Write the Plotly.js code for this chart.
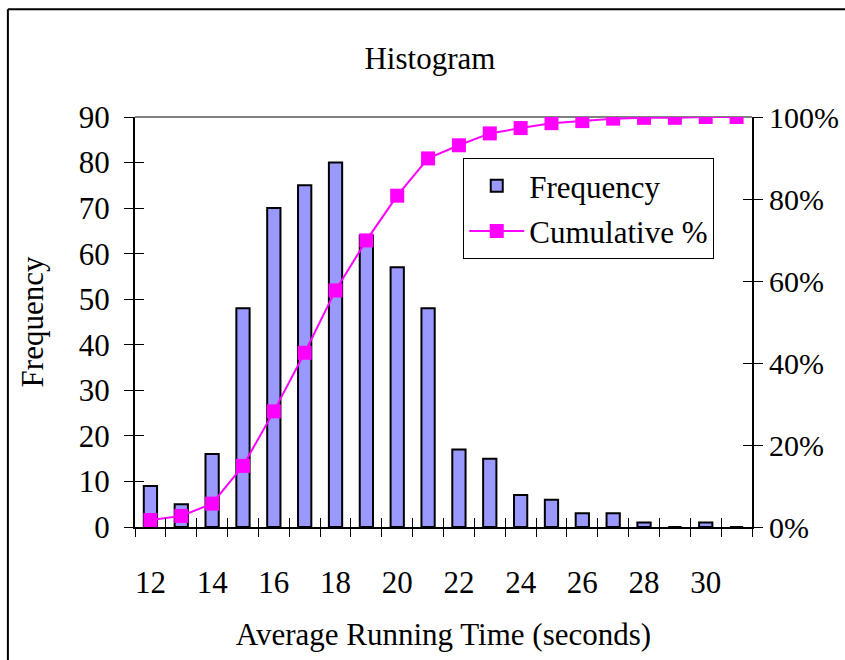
<!DOCTYPE html>
<html>
<head>
<meta charset="utf-8">
<script src="https://cdn.plot.ly/plotly-3.0.1.min.js"></script>
<style>html,body{margin:0;padding:0;background:#fff;}#chart{width:845px;height:660px;}</style>
</head>
<body>
<div id="chart"></div>
<script>
// Data
var bins = [12, 13, 14, 15, 16, 17, 18, 19, 20, 21, 22, 23, 24, 25, 26, 27, 28, 29, 30, 31];
var frequency = [9, 5, 16, 48, 70, 75, 80, 64, 57, 48, 17, 15, 7, 6, 3, 3, 1, 0, 1, 0];
var cumulativePct = [1.7, 2.7, 5.7, 14.9, 28.2, 42.5, 57.7, 69.9, 80.8, 89.9, 93.1, 96.0, 97.3, 98.5, 99.0, 99.6, 99.8, 99.8, 100, 100];
var xTickVals = [12, 14, 16, 18, 20, 22, 24, 26, 28, 30];
var xBoundaries = [11.5, 12.5, 13.5, 14.5, 15.5, 16.5, 17.5, 18.5, 19.5, 20.5, 21.5, 22.5, 23.5, 24.5, 25.5, 26.5, 27.5, 28.5, 29.5, 30.5, 31.5];
var yTickVals = [0, 10, 20, 30, 40, 50, 60, 70, 80, 90];
var pctTickVals = [0, 20, 40, 60, 80, 100];
var pctTickText = ['0%', '20%', '40%', '60%', '80%', '100%'];

var FONT = 'Liberation Serif';
var FS = 31;
var F = {family: FONT, size: FS, color: '#000'};
var FR = {family: FONT, size: 30, color: '#000'};

var traces = [
  {
    type: 'bar', name: 'Frequency', x: bins, y: frequency,
    xaxis: 'x', yaxis: 'y',
    marker: {color: '#9999FF', line: {color: '#000000', width: 2}},
    legendgroup: 'a'
  },
  {
    type: 'scatter', mode: 'lines+markers', name: 'Cumulative %', x: bins, y: cumulativePct,
    xaxis: 'x', yaxis: 'y2',
    line: {color: '#FF00FF', width: 2},
    marker: {symbol: 'square', size: 14, color: '#FF00FF'},
    legendgroup: 'b'
  }
];

var xr = [11.5, 31.5];
var layout = {
  width: 845, height: 660,
  margin: {l: 135, r: 93, t: 117, b: 133, pad: 0},
  paper_bgcolor: '#ffffff', plot_bgcolor: '#ffffff',
  font: F,
  showlegend: true,
  bargap: 0.57,
  title: {text: 'Histogram', font: F,
          x: 0.478, xref: 'paper', xanchor: 'center', y: 0.912, yref: 'container', yanchor: 'middle'},
  legend: {
    x: 0.532, y: 0.9, xanchor: 'left', yanchor: 'top',
    bgcolor: '#ffffff', bordercolor: '#000', borderwidth: 1,
    font: F,
    traceorder: 'grouped', tracegroupgap: 2, itemwidth: 55
  },
  xaxis: {
    type: 'linear', range: xr, tickvals: xTickVals, ticks: '', tickfont: F,
    showline: true, linecolor: '#000', linewidth: 2, showgrid: false, zeroline: false,
    ticklabelstandoff: 27,
    title: {text: 'Average Running Time (seconds)', font: F, standoff: 24}
  },
  xaxis2: {
    overlaying: 'x', anchor: 'y', type: 'linear', range: xr, tickvals: xBoundaries,
    ticks: 'outside', ticklen: 9, tickwidth: 1, tickcolor: '#000',
    showticklabels: false, showline: false, showgrid: false, zeroline: false
  },
  xaxis3: {
    overlaying: 'x', anchor: 'y', type: 'linear', range: xr, tickvals: xBoundaries,
    ticks: 'inside', ticklen: 9, tickwidth: 1, tickcolor: '#000',
    showticklabels: false, showline: false, showgrid: false, zeroline: false
  },
  yaxis: {
    range: [0, 90], tickvals: yTickVals, ticks: 'outside', ticklen: 9, tickwidth: 1, tickcolor: '#000',
    tickfont: F,
    showline: true, linecolor: '#000', linewidth: 2, showgrid: false, zeroline: false,
    ticklabelstandoff: 8,
    title: {text: 'Frequency', font: F, standoff: 26}
  },
  yaxis2: {
    overlaying: 'y', side: 'right', anchor: 'x', range: [0, 100],
    tickvals: pctTickVals, ticktext: pctTickText, tickfont: FR,
    ticks: 'outside', ticklen: 9, tickwidth: 1, tickcolor: '#000',
    showline: true, linecolor: '#000', linewidth: 2, showgrid: false, zeroline: false,
    ticklabelstandoff: 0
  },
  yaxis3: {
    overlaying: 'y', anchor: 'x', range: [0, 90], tickvals: yTickVals,
    ticks: 'inside', ticklen: 9, tickwidth: 1, tickcolor: '#000',
    showticklabels: false, showline: false, showgrid: false, zeroline: false
  },
  yaxis4: {
    overlaying: 'y', side: 'right', anchor: 'x', range: [0, 100], tickvals: pctTickVals,
    ticks: 'inside', ticklen: 9, tickwidth: 1, tickcolor: '#000',
    showticklabels: false, showline: false, showgrid: false, zeroline: false
  },
  shapes: [
    {type: 'line', xref: 'paper', yref: 'paper', x0: 0, x1: 1, y0: 1, y1: 1, line: {color: '#808080', width: 2}, layer: 'below'},
    {type: 'line', xref: 'paper', yref: 'paper', x0: -0.206, x1: 1.2, y0: 1.263, y1: 1.263, line: {color: '#000', width: 2}},
    {type: 'line', xref: 'paper', yref: 'paper', x0: -0.206, x1: -0.206, y0: 1.263, y1: -0.33, line: {color: '#000', width: 2}}
  ]
};

// Invisible helper traces so the overlay tick axes are drawn
var axisTraces = [
  {type: 'scatter', x: [xr[0]], y: [0], xaxis: 'x2', yaxis: 'y', mode: 'markers', marker: {opacity: 0}, showlegend: false, hoverinfo: 'skip'},
  {type: 'scatter', x: [xr[0]], y: [0], xaxis: 'x3', yaxis: 'y', mode: 'markers', marker: {opacity: 0}, showlegend: false, hoverinfo: 'skip'},
  {type: 'scatter', x: [xr[0]], y: [0], xaxis: 'x', yaxis: 'y3', mode: 'markers', marker: {opacity: 0}, showlegend: false, hoverinfo: 'skip'},
  {type: 'scatter', x: [xr[0]], y: [0], xaxis: 'x', yaxis: 'y4', mode: 'markers', marker: {opacity: 0}, showlegend: false, hoverinfo: 'skip'}
];

Plotly.newPlot('chart', axisTraces.concat(traces), layout, {staticPlot: true, displayModeBar: false});
</script>
</body>
</html>
